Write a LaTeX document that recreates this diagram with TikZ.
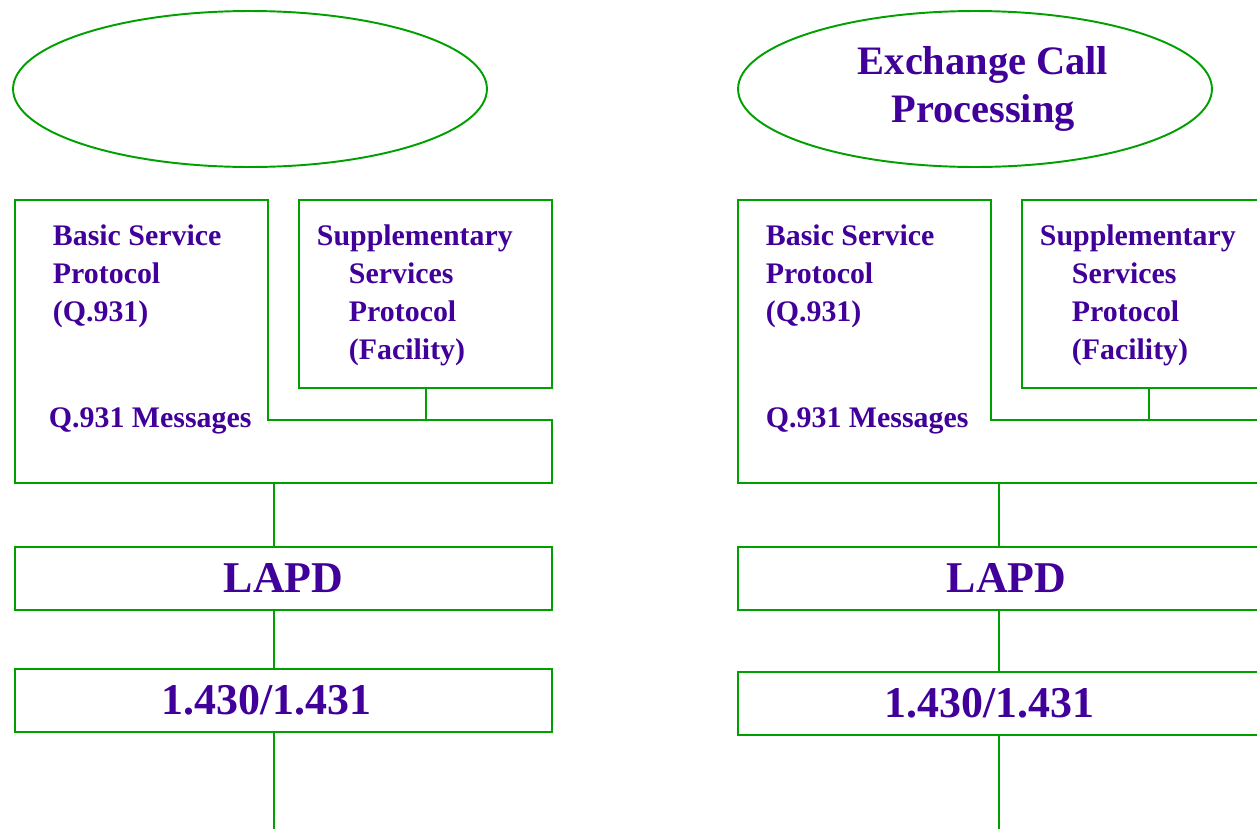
\documentclass[tikz,border=0pt]{standalone}
\usepackage{fontspec}
\setmainfont{Liberation Serif}
\usepackage{xcolor}
\usetikzlibrary{shapes.geometric, positioning}
\definecolor{boxgreen}{RGB}{0,160,0}
\definecolor{labelpurple}{RGB}{64,0,153}

\begin{document}
\begin{tikzpicture}[x=0.02cm, y=-0.02cm, line width=1.1pt,
    every node/.style={text=labelpurple, font=\bfseries},
    boxline/.style={draw=boxgreen, line width=1.1pt},
    callellipse/.style={ellipse, draw=boxgreen, minimum width=9.48cm, minimum height=3.12cm,
        inner sep=0pt, align=center, font=\bfseries\fontsize{23}{27.8}\selectfont},
    supbox/.style={rectangle, draw=boxgreen, minimum width=5.06cm, minimum height=3.76cm, inner sep=0pt},
    layerbox/.style={rectangle, draw=boxgreen, minimum width=10.74cm, minimum height=1.26cm,
        inner sep=0pt, font=\bfseries\fontsize{25}{30}\selectfont},
    textblock/.style={align=left, inner sep=0pt, font=\bfseries\fontsize{17}{21.6}\selectfont}]
    \path[use as bounding box, clip] (0,0) rectangle (1257,829);

    % Left stack
    \node[callellipse] (callL) at (250,89) {};
    \draw[boxline] (15,200) -- (268,200) -- (268,420) -- (552,420) -- (552,483) -- (15,483) -- cycle;
    \node[supbox] (supL) at (425.5,294) {};
    \node[textblock, anchor=north west] (basicL) at (52,224) {Basic Service\\Protocol\\(Q.931)};
    \node[textblock, anchor=north west] (suptxtL) at (316,224)
        {Supplementary\\\hspace*{0.64cm}Services\\\hspace*{0.64cm}Protocol\\\hspace*{0.64cm}(Facility)};
    \node[textblock, anchor=base west] (msgL) at (48,427) {Q.931 Messages};
    \coordinate (tapL) at (426,420);
    \coordinate (stemL) at (274,483);
    \node[layerbox] (lapdL) at (283.5,578.5) {LAPD};
    \node[layerbox] (isdnL) at (283.5,700.5) {1.430/1.431\hspace*{0.68cm}};
    \coordinate (endL) at (274,829);
    \draw[boxline] (tapL |- supL.south) -- (tapL);
    \draw[boxline] (stemL) -- (stemL |- lapdL.north);
    \draw[boxline] (lapdL.south -| stemL) -- (isdnL.north -| stemL);
    \draw[boxline] (isdnL.south -| stemL) -- (endL);

    % Right stack
    \node[callellipse] (callR) at (975,89) {\hspace*{0.32cm}Exchange Call\\\hspace*{0.32cm}Processing};
    \draw[boxline] (738,200) -- (991,200) -- (991,420) -- (1275,420) -- (1275,483) -- (738,483) -- cycle;
    \node[supbox] (supR) at (1148.5,294) {};
    \node[textblock, anchor=north west] (basicR) at (765,224) {Basic Service\\Protocol\\(Q.931)};
    \node[textblock, anchor=north west] (suptxtR) at (1039,224)
        {Supplementary\\\hspace*{0.64cm}Services\\\hspace*{0.64cm}Protocol\\\hspace*{0.64cm}(Facility)};
    \node[textblock, anchor=base west] (msgR) at (765,427) {Q.931 Messages};
    \coordinate (tapR) at (1149,420);
    \coordinate (stemR) at (999,483);
    \node[layerbox] (lapdR) at (1006.5,578.5) {LAPD};
    \node[layerbox] (isdnR) at (1006.5,703.5) {1.430/1.431\hspace*{0.68cm}};
    \coordinate (endR) at (999,829);
    \draw[boxline] (tapR |- supR.south) -- (tapR);
    \draw[boxline] (stemR) -- (stemR |- lapdR.north);
    \draw[boxline] (lapdR.south -| stemR) -- (isdnR.north -| stemR);
    \draw[boxline] (isdnR.south -| stemR) -- (endR);
\end{tikzpicture}
\end{document}
